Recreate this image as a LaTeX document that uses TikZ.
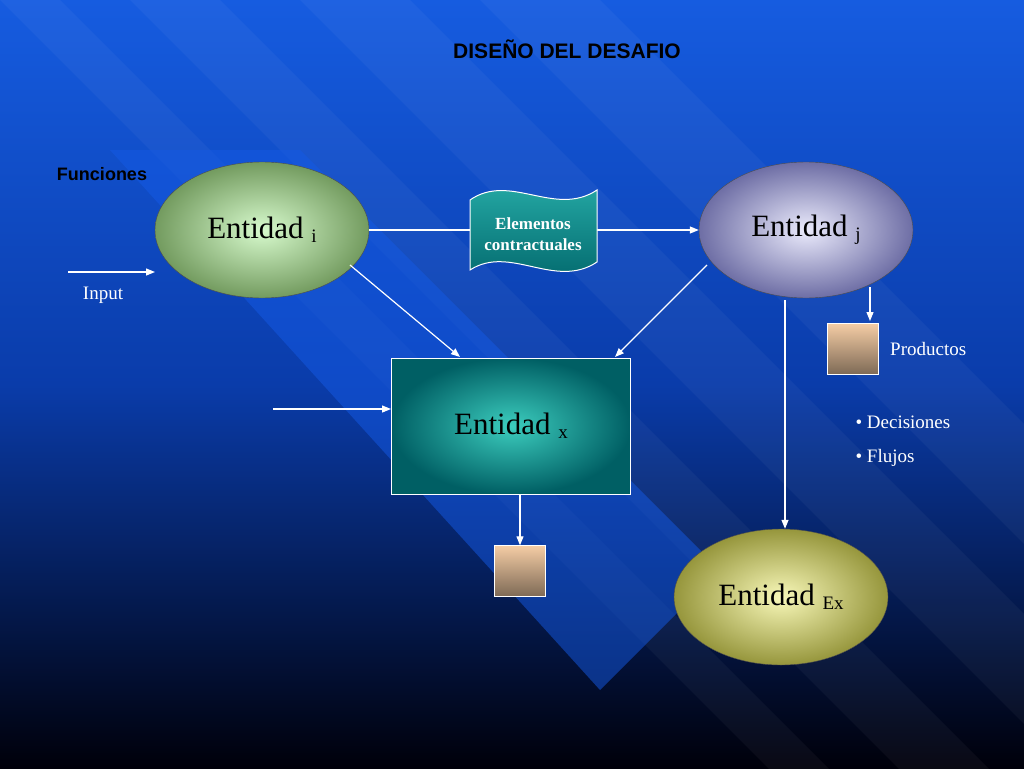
\documentclass[tikz,border=0pt]{standalone}
\usepackage{fontspec}
\setmainfont{Liberation Serif}
\newfontfamily\headfont{Liberation Sans}
\usetikzlibrary{arrows.meta,shapes.geometric}
\definecolor{bgtop}{RGB}{22,92,224}
\definecolor{bgmid}{RGB}{10,60,170}
\definecolor{bgbot}{RGB}{0,0,10}
\definecolor{band}{RGB}{20,90,230}
\definecolor{iin}{RGB}{215,250,205}\definecolor{iout}{RGB}{115,155,95}
\definecolor{jin}{RGB}{235,235,252}\definecolor{jout}{RGB}{110,110,165}
\definecolor{exin}{RGB}{248,248,185}\definecolor{exout}{RGB}{150,150,60}
\definecolor{xin}{RGB}{60,205,190}\definecolor{xout}{RGB}{0,95,100}
\definecolor{doctop}{RGB}{40,175,170}\definecolor{docbot}{RGB}{0,100,105}
\definecolor{prtop}{RGB}{245,205,165}\definecolor{prbot}{RGB}{125,105,85}
\tikzset{
  arr/.style={draw=white,line width=1.2pt,-{Triangle[length=9pt,width=7pt]}},
  ent/.style={ellipse,draw=black!70,minimum width=214pt,minimum height=136pt,
    font=\fontsize{31}{34}\selectfont},
  prodbox/.style={draw=white!80,minimum width=51pt,minimum height=51pt,
    top color=prtop,bottom color=prbot},
  lbl/.style={text=white,font=\fontsize{19}{22}\selectfont,anchor=west}
}
\begin{document}
\begin{tikzpicture}[x=1pt,y=-1pt]
% background
\useasboundingbox (0,0) rectangle (1024,768);
\shade[top color=bgtop,bottom color=bgbot,middle color=bgmid] (0,0) rectangle (1024,768);
% diagonal bands
\foreach \s/\w in {0/60,130/90,300/110,480/120}
{
  \fill[white,opacity=0.04] (\s,0) -- (\s+\w,0) -- (\s+\w+900,900) -- (\s+900,900) -- cycle;
}
\fill[band,opacity=0.5] (110,150) -- (300,150) -- (720,570) -- (600,690) -- cycle;
% titles
\node[text=black,font=\headfont\bfseries\fontsize{21}{24}\selectfont] (title) at (567,49) {DISEÑO DEL DESAFIO};
\node[text=black,font=\headfont\bfseries\fontsize{18}{21}\selectfont] (func) at (102,174) {Funciones};
% entities
\node[ent,inner color=iin,outer color=iout] (ei) at (262,230) {Entidad \raisebox{-4pt}{\fontsize{19}{20}\selectfont i}};
\node[ent,inner color=jin,outer color=jout] (ej) at (806,230) {Entidad \raisebox{-4pt}{\fontsize{19}{20}\selectfont j}};
\node[ent,inner color=exin,outer color=exout] (eex) at (781,597) {Entidad \raisebox{-4pt}{\fontsize{19}{20}\selectfont Ex}};
\node[draw=white,line width=1pt,minimum width=239pt,minimum height=136pt,
  inner color=xin,outer color=xout,
  font=\fontsize{31}{34}\selectfont] (ex) at (511,426) {Entidad \raisebox{-4pt}{\fontsize{19}{20}\selectfont x}};
% arrow behind the document
\draw[arr] (ei.east) -- (ej.west);
% document
\shade[draw=white,line width=1pt,top color=doctop,bottom color=docbot]
  (470,200) .. controls (510,172) and (555,218) .. (597,190) -- (597,262)
  .. controls (555,290) and (510,244) .. (470,270) -- cycle;
\node[text=white,font=\bfseries\fontsize{17}{21}\selectfont,align=center] (doc) at (533,234) {Elementos\\contractuales};
% product boxes
\node[prodbox] (prod) at (853,349) {};
\node[prodbox] (pbox) at (520,571) {};
% helper points
\coordinate (inp) at (68,272);
\coordinate (inpend) at (155,272);
\coordinate (exinp) at (273,409);
\coordinate (xa) at (460,357);
\coordinate (xb) at (615,357);
\coordinate (ia) at (350,265);
\coordinate (jb) at (707,265);
\coordinate (pa) at (870,287);
\coordinate (pb) at (870,321);
\coordinate (ja) at (785,300);
% connectors
\draw[arr] (inp) -- (inpend);
\draw[arr] (ia) -- (xa);
\draw[arr] (jb) -- (xb);
\draw[arr] (exinp) -- (ex.west |- exinp);
\draw[arr] (ex.south -| pbox) -- (pbox.north);
\draw[arr] (pa) -- (pb);
\draw[arr] (ja) -- (ja |- eex.north);
% labels
\node[lbl,anchor=center] (inputlbl) at (103,295) {Input};
\node[lbl,xshift=8pt] (prodlbl) at (prod.east) {Productos};
\node[lbl] (dec) at (852,422) {\textbullet\ Decisiones};
\node[lbl] (flu) at (852,458) {\textbullet\ Flujos};
\end{tikzpicture}
\end{document}
